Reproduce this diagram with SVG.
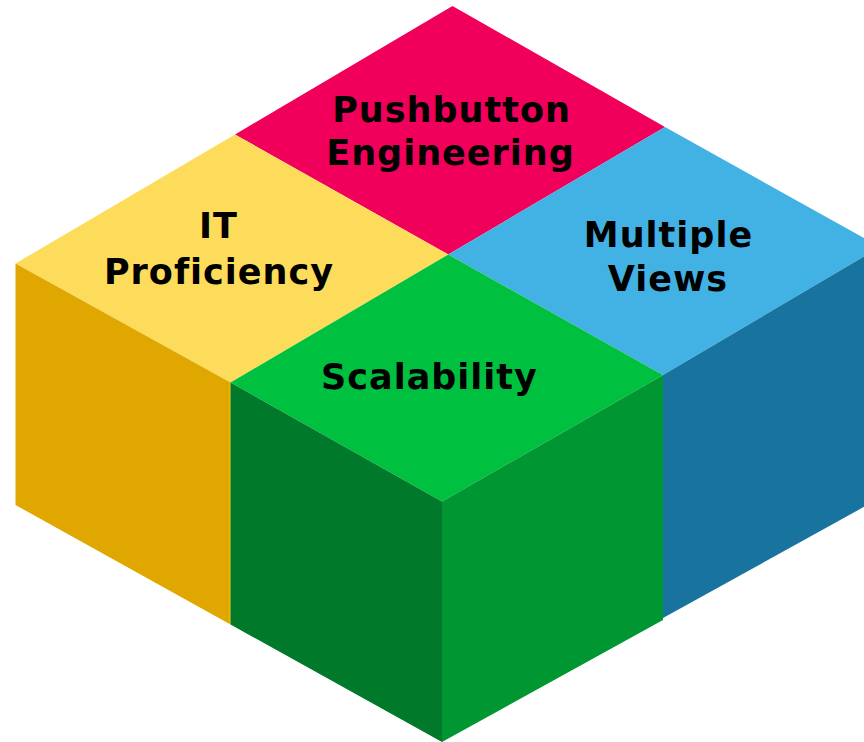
<svg xmlns="http://www.w3.org/2000/svg" width="864" height="742" viewBox="0 0 864 742">
<style>
text{font-family:Verdana,"DejaVu Sans",sans-serif;font-weight:bold;font-size:35px;letter-spacing:1px;fill:#000;text-anchor:middle}
</style>
<rect width="864" height="742" fill="#fff"/>
<g id="pushbutton">
<polygon points="452.5,6 665,127 448.3,254.5 235,134.5" fill="#F0005A"/>
<text x="451.5" y="122">Pushbutton</text>
<text x="450.5" y="165">Engineering</text>
</g>
<g id="multiple-views">
<polygon points="665,127 880,247 663,375 448.3,254.5" fill="#42B2E4"/>
<polygon points="663,375 880,247 880,498 663,618" fill="#19739F"/>
<text x="668.5" y="247">Multiple</text>
<text x="668" y="291">Views</text>
</g>
<g id="it-proficiency">
<polygon points="235,134.5 448.3,254.5 230.5,382.5 15.5,263.5" fill="#FDDC5C"/>
<polygon points="15.5,263.5 230.5,382.5 230.5,624.5 15.5,505" fill="#DFA700"/>
<line x1="230" y1="383" x2="230" y2="624" stroke="#F5C400" stroke-width="1.2"/>
<text x="218.5" y="238">IT</text>
<text x="219" y="284">Proficiency</text>
</g>
<g id="scalability">
<polygon points="448.3,254.5 663,375 442,501.5 230.5,382.5" fill="#00C040"/>
<polygon points="230.5,382.5 442,501.5 442,742 230.5,624.5" fill="#007A2A"/>
<polygon points="442,501.5 663,375 663,620 442,742" fill="#009632"/>
<text x="429.5" y="389">Scalability</text>
</g>
<g id="connectors"/>
</svg>
